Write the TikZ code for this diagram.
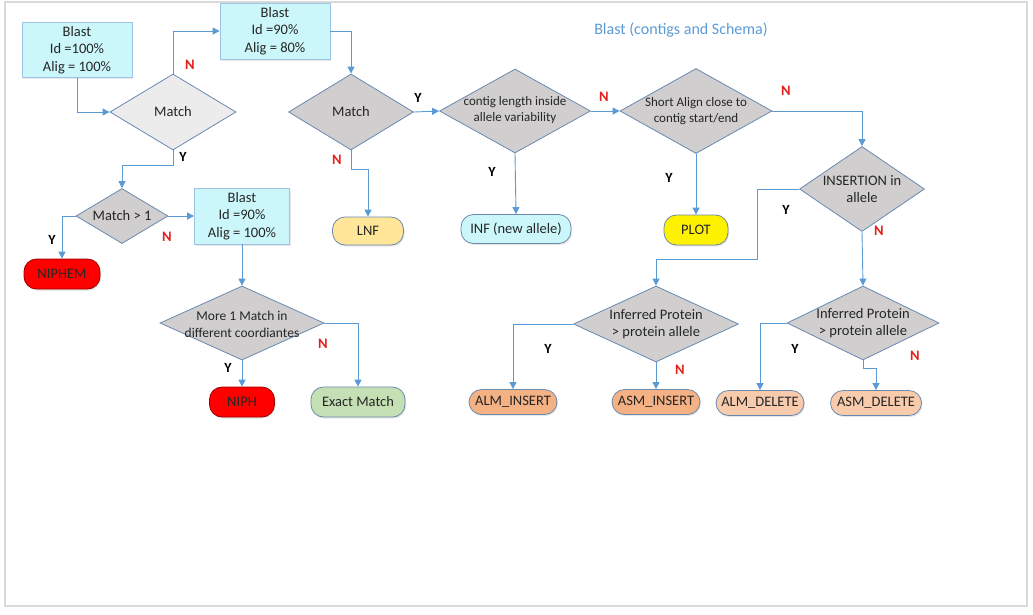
\documentclass[tikz,border=0pt]{standalone}
\usepackage{fontspec}
\setmainfont{Carlito}
\usetikzlibrary{shapes.geometric,arrows.meta,shadows}

\definecolor{flow}{HTML}{5B9BD5}
\definecolor{boxfill}{HTML}{CCF7FA}
\definecolor{boxline}{HTML}{9DC3E6}
\definecolor{diafill}{HTML}{D0CECE}
\definecolor{dialine}{HTML}{6A89AD}
\definecolor{ink}{HTML}{262626}
\definecolor{nored}{HTML}{E3201B}
\definecolor{frame}{HTML}{D9D9D9}
\definecolor{exactfill}{HTML}{C5E0B4}
\definecolor{lnffill}{HTML}{FFE699}
\definecolor{insfill}{HTML}{F4B183}
\definecolor{delfill}{HTML}{F8CBAD}

\tikzset{
  base/.style={font=\fontsize{14.5}{17.5}\selectfont, text=ink, align=center},
  blastbox/.style={base, draw=boxline, fill=boxfill, line width=0.8pt, inner sep=0pt,
    drop shadow={shadow xshift=1pt, shadow yshift=-1.5pt, opacity=0.18}},
  dia/.style={diamond, draw=dialine, fill=diafill, line width=0.8pt, inner sep=0pt},
  diatext/.style={base},
  smalltext/.style={base, font=\fontsize{13}{16}\selectfont},
  term/.style={base, draw=dialine, line width=0.8pt, rounded corners=12.5pt, inner sep=0pt,
    drop shadow={shadow xshift=1pt, shadow yshift=-1.5pt, opacity=0.2}},
  link/.style={draw=flow, line width=0.9pt, -{Triangle[width=7pt,length=7pt]}},
  yes/.style={font=\fontsize{14}{15}\selectfont\bfseries, text=black},
  no/.style={font=\fontsize{14.5}{16}\selectfont\bfseries, text=nored},
}

\begin{document}
\begin{tikzpicture}[x=1pt, y=-1pt]
\useasboundingbox (0,0) rectangle (1033,614);
\draw[frame, line width=1.2pt] (5,2) rectangle (1027,606);

% title
\node[font=\fontsize{16}{19}\selectfont, text=flow] (title) at (681,30) {Blast (contigs and Schema)};

% blast boxes
\node[blastbox, minimum width=110, minimum height=55] (b1) at (77,50) {Blast\\Id =100\%\\Alig = 100\%};
\node[blastbox, minimum width=110, minimum height=56] (b2) at (275,31) {Blast\\Id =90\%\\Alig = 80\%};
\node[blastbox, minimum width=95, minimum height=56] (b3) at (242,216) {Blast\\Id =90\%\\Alig = 100\%};

% decisions
\node[dia, fill=gray!15, minimum width=126, minimum height=76] (m1) at (173,112) {};
\node[diatext] (m1t) at (m1) {Match};
\node[dia, minimum width=125, minimum height=76] (m2) at (351,112) {};
\node[diatext] (m2t) at (m2) {Match};
\node[dia, minimum width=92, minimum height=55] (mg1) at (122,216) {};
\node[diatext] (mg1t) at (mg1) {Match > 1};
\node[dia, minimum width=164, minimum height=74] (more) at (242,323) {};
\node[smalltext, font=\fontsize{13.5}{17}\selectfont] (moret) at (242,324) {More 1 Match in\\different coordiantes};
\node[dia, minimum width=151, minimum height=84] (contig) at (515,111) {};
\node[smalltext] (contigt) at (515,110) {contig length inside\\allele variability};
\node[dia, minimum width=152, minimum height=85] (short) at (696,111) {};
\node[smalltext] (shortt) at (696,111) {Short Align close to\\contig start/end};
\node[dia, minimum width=125, minimum height=85] (ins) at (862,189) {};
\node[diatext] (inst) at (862,189) {INSERTION in\\allele};
\node[dia, minimum width=165, minimum height=76] (ip1) at (656,324) {};
\node[diatext] (ip1t) at (656,324) {Inferred Protein\\> protein allele};
\node[dia, minimum width=152, minimum height=74] (ip2) at (863,323) {};
\node[diatext] (ip2t) at (863,323) {Inferred Protein\\> protein allele};

% outcomes
\node[term, fill=red, draw=red!60!black, minimum width=76, minimum height=30] (niphem) at (62,274) {NIPHEM};
\node[term, fill=red, draw=red!60!black, minimum width=65, minimum height=30] (niph) at (242,402) {NIPH};
\node[term, fill=exactfill, minimum width=94, minimum height=30] (exact) at (358,402) {Exact Match};
\node[term, fill=lnffill, minimum width=71, minimum height=28] (lnf) at (368,231) {LNF};
\node[term, fill=boxfill, minimum width=110, minimum height=29] (inf) at (516,229) {INF (new allele)};
\node[term, fill=yellow, minimum width=64, minimum height=30] (plot) at (696,230) {PLOT};
\node[term, fill=insfill, minimum width=88, minimum height=25] (almi) at (513,402) {ALM\_INSERT};
\node[term, fill=insfill, minimum width=88, minimum height=25] (asmi) at (656,402) {ASM\_INSERT};
\node[term, fill=delfill, minimum width=88, minimum height=25] (almd) at (760,403) {ALM\_DELETE};
\node[term, fill=delfill, minimum width=91, minimum height=25] (asmd) at (876,403) {ASM\_DELETE};

% connectors
\draw[link] (b1.south) |- (m1.west);
\draw[link] (m1.north) |- (b2.west);
\draw[link] (b2.east) -| (m2.north);
\draw[link] (m1.south) -- ++(0,15) -| (mg1.north);
\draw[link] (mg1.west) -| (niphem.north);
\draw[link] (mg1.east) -- (b3.west);
\draw[link] (b3.south) -- (more.north);
\draw[link] (more.south) -- (niph.north);
\draw[link] (more.east) -| (exact.north);
\draw[link] (m2.south) -- ++(0,19) -| (lnf.north);
\draw[link] (m2.east) -- (contig.west);
\draw[link] (contig.south) -- (inf.north);
\draw[link] (contig.east) -- (short.west);
\draw[link] (short.south) -- (plot.north);
\draw[link] (short.east) -| (ins.north);
\draw[link] (ins.west) -- ++(-42,0) -- ++(0,70) -| (ip1.north);
\draw[link] (ins.south) -- (ip2.north);
\draw[link] (ip1.west) -| (almi.north);
\draw[link] (ip1.south) -- (asmi.north);
\draw[link] (ip2.west) -| (almd.north);
\draw[link] (ip2.south) -- ++(0,8) -| (asmd.north);

% branch labels
\node[no]  (l1)  at (190,65)  {N};
\node[yes] (l2)  at (183,157) {Y};
\node[yes] (l3)  at (52,240)  {Y};
\node[no]  (l4)  at (167,237) {N};
\node[yes] (l5)  at (228,368) {Y};
\node[no]  (l6)  at (323,344) {N};
\node[no]  (l7)  at (337,160) {N};
\node[yes] (l8)  at (418,98)  {Y};
\node[yes] (l9)  at (492,172) {Y};
\node[no]  (l10) at (604,97)  {N};
\node[yes] (l11) at (669,178) {Y};
\node[no]  (l12) at (786,91)  {N};
\node[yes] (l13) at (786,210) {Y};
\node[no]  (l14) at (879,231) {N};
\node[yes] (l15) at (548,349) {Y};
\node[no]  (l16) at (680,370) {N};
\node[yes] (l17) at (795,349) {Y};
\node[no]  (l18) at (915,356) {N};
\end{tikzpicture}
\end{document}
